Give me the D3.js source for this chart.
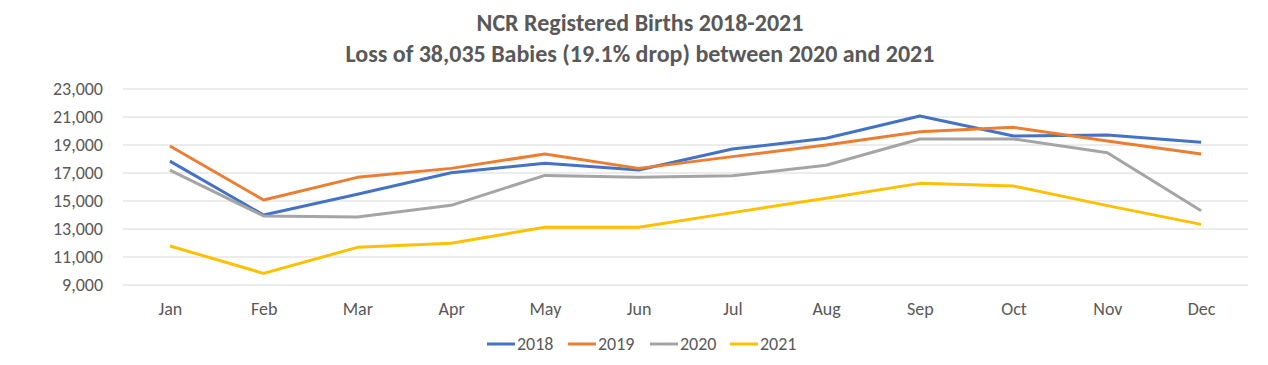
<!DOCTYPE html>
<html>
<head>
<meta charset="utf-8">
<script src="https://cdn.jsdelivr.net/npm/d3@7"></script>
<style>
  body { margin: 0; background: #fff; }
  text { font-family: Carlito, "Open Sans", "Liberation Sans", sans-serif; fill: #595959; }
</style>
</head>
<body>
<script>
// month categories
const months = ["Jan", "Feb", "Mar", "Apr", "May", "Jun", "Jul", "Aug", "Sep", "Oct", "Nov", "Dec"];
// registered births per month
const births2018 = [17850, 14000, 15480, 17020, 17690, 17210, 18710, 19480, 21070, 19640, 19710, 19190];
const births2019 = [18930, 15070, 16690, 17330, 18360, 17330, 18170, 19000, 19950, 20260, 19290, 18360];
const births2020 = [17210, 13930, 13860, 14690, 16830, 16690, 16810, 17550, 19430, 19430, 18450, 14310];
const births2021 = [11790, 9830, 11690, 11980, 13120, 13120, 14170, 15190, 16260, 16070, 14670, 13330];
const yTicks = [9000, 11000, 13000, 15000, 17000, 19000, 21000, 23000];

const series = [
  {name: "2018", values: births2018, color: "#4472C4"},
  {name: "2019", values: births2019, color: "#ED7D31"},
  {name: "2020", values: births2020, color: "#A5A5A5"},
  {name: "2021", values: births2021, color: "#FFC000"}
];

const width = 1268, height = 365;
const font = 'Carlito, "Open Sans", "Liberation Sans", sans-serif';
const svg = d3.select("body").append("svg")
  .attr("width", width)
  .attr("height", height);

// title
const title = svg.append("text")
  .attr("text-anchor", "middle")
  .style("font-size", "24px")
  .style("font-weight", "bold");
title.append("tspan").attr("x", 640).attr("y", 31).text("NCR Registered Births 2018-2021");
title.append("tspan").attr("x", 640).attr("y", 62).text("Loss of 38,035 Babies (19.1% drop) between 2020 and 2021");

const x = d3.scalePoint().domain(months).range([123, 1248]).padding(0.5);
const y = d3.scaleLinear().domain([9000, 23000]).range([285, 89]);

// gridlines
svg.append("g")
  .selectAll("line")
  .data(yTicks)
  .enter().append("line")
  .attr("x1", 123).attr("x2", 1248)
  .attr("y1", d => y(d)).attr("y2", d => y(d))
  .style("stroke", "#D9D9D9")
  .style("stroke-width", 1);

// y axis labels
const yAxis = svg.append("g")
  .attr("transform", "translate(110,0)")
  .call(d3.axisLeft(y).tickValues(yTicks).tickFormat(d3.format(",")).tickSize(0).tickPadding(7));
yAxis.select(".domain").remove();
yAxis.selectAll("text").style("font-size", "18px").style("fill", "#595959").style("font-family", font);

// x axis labels
const xAxis = svg.append("g")
  .attr("transform", "translate(0,302)")
  .call(d3.axisBottom(x).tickSize(0).tickPadding(0));
xAxis.select(".domain").remove();
xAxis.selectAll("text").style("font-size", "18px").style("fill", "#595959").style("font-family", font);

// lines
const line = d3.line()
  .x((d, i) => x(months[i]))
  .y(d => y(d));

svg.append("g")
  .selectAll("path")
  .data(series)
  .enter().append("path")
  .attr("d", d => line(d.values))
  .style("fill", "none")
  .style("stroke", d => d.color)
  .style("stroke-width", 3)
  .style("stroke-linejoin", "round");

// legend
const legendX = [487, 568, 650, 730];
const legend = svg.append("g")
  .selectAll("g")
  .data(series)
  .enter().append("g")
  .attr("transform", (d, i) => "translate(" + legendX[i] + ",344)");
legend.append("line")
  .attr("x1", 0).attr("x2", 28)
  .style("stroke", d => d.color)
  .style("stroke-width", 3);
legend.append("text")
  .attr("x", 30)
  .attr("dy", ".35em")
  .style("font-size", "18px")
  .text(d => d.name);
</script>
</body>
</html>
